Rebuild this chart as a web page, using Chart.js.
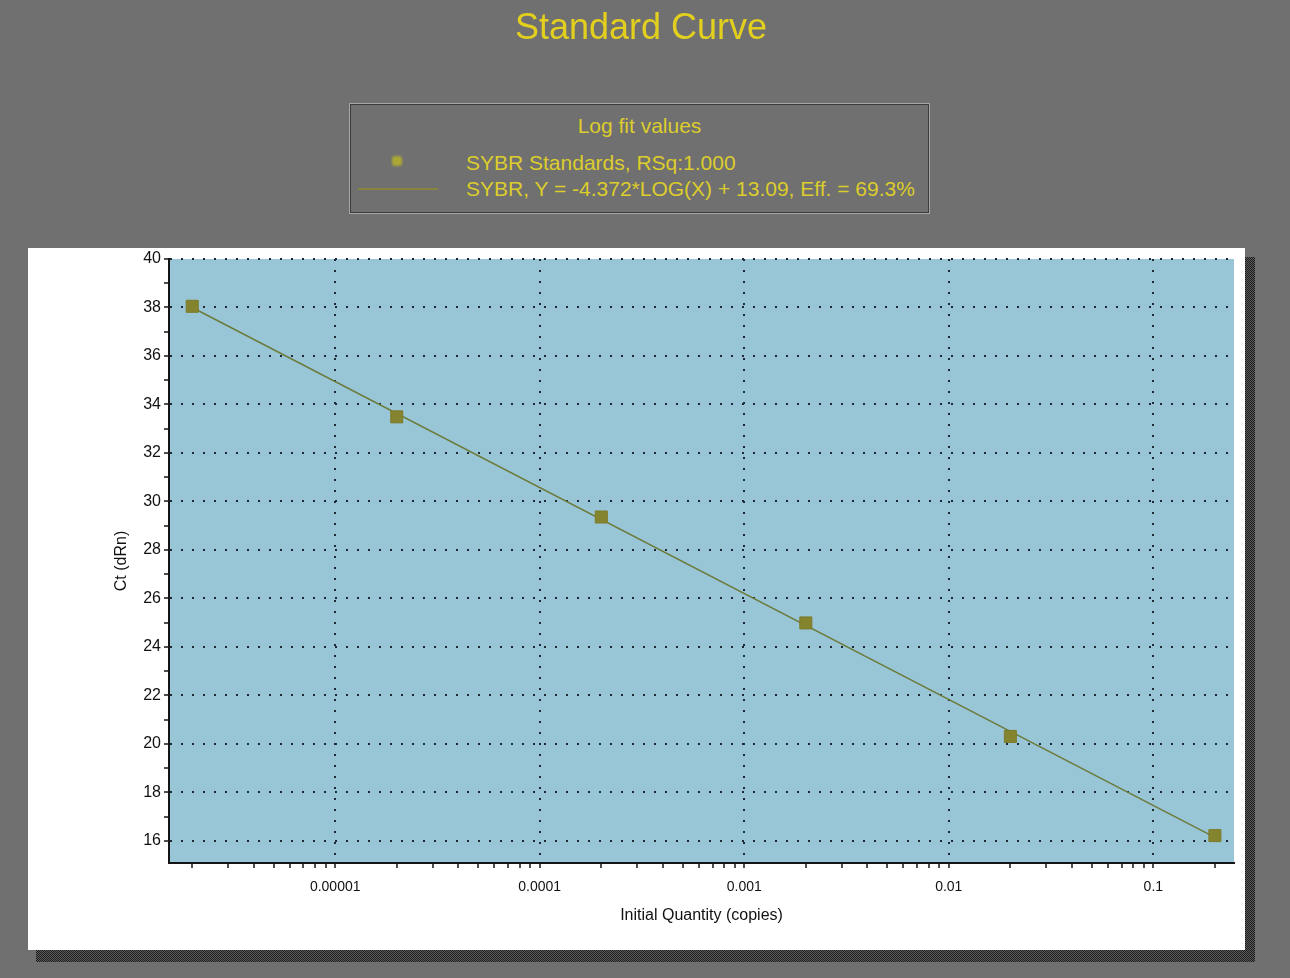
<!DOCTYPE html>
<html>
<head>
<meta charset="utf-8">
<title>Standard Curve</title>
<script src="https://cdn.jsdelivr.net/npm/chart.js@4.4.1/dist/chart.umd.min.js"></script>
<style>
    body { margin: 0; background: #707070; font-family: 'Liberation Sans', Arial, sans-serif; }
    #wrap { position: relative; width: 1290px; height: 978px; overflow: hidden; }
    #chart { position: absolute; left: 0; top: 0; }
    #title { position: absolute; left: 0; top: 5px; width: 1282px; text-align: center;
             font-size: 36px; line-height: 44px; color: #e3cf1e; }
    #legend { position: absolute; left: 349px; top: 103px; width: 581px; height: 111px;
              box-sizing: border-box; border: 1px solid #a6a6a6; box-shadow: inset 0 0 0 1px #3c3c3c;
              background: #707070; color: #dccd2c; font-size: 21px; }
    #legend .head { position: absolute; left: 0; right: 0; top: 10px; line-height: 24px; text-align: center; }
    #legend .item { position: absolute; left: 116px; line-height: 24px; white-space: nowrap; }
    #legend .marker { position: absolute; left: 42px; top: 52px; width: 10px; height: 10px;
                      background: #aaa734; border-radius: 3px; filter: blur(1px); }
    #legend .line { position: absolute; left: 8px; top: 84px; width: 80px; height: 2px; background: #86853a; }
</style>
</head>
<body>
<div id="wrap">
    <canvas id="chart" width="1290" height="978"></canvas>
    <div id="title">Standard Curve</div>
    <div id="legend">
        <div class="head" id="legendTitle"></div>
        <div class="marker"></div>
        <div class="item" id="legendStd" style="top:47px"></div>
        <div class="line"></div>
        <div class="item" id="legendFit" style="top:73px"></div>
    </div>
</div>
<script>
// standards (initial quantity vs Ct)
const quantities = [0.000002, 0.00002, 0.0002, 0.002, 0.02, 0.2];
const ctValues = [38.05, 33.49, 29.36, 24.99, 20.31, 16.22];

// log fit line end points
const fitX = [0.000002, 0.2];
const fitY = [38.0, 16.15];

const xMajor = [0.00001, 0.0001, 0.001, 0.01, 0.1];
const xTickLabels = ['0.00001', '0.0001', '0.001', '0.01', '0.1'];
const yTickLabels = ['16', '18', '20', '22', '24', '26', '28', '30', '32', '34', '36', '38', '40'];

const legendTitle = 'Log fit values';
const stdLabel = 'SYBR Standards, RSq:1.000';
const fitLabel = 'SYBR, Y = -4.372*LOG(X) + 13.09, Eff. = 69.3%';

document.getElementById('legendTitle').textContent = legendTitle;
document.getElementById('legendStd').textContent = stdLabel;
document.getElementById('legendFit').textContent = fitLabel;

function majorIndex(v) {
    return xMajor.findIndex(m => Math.abs(m - v) / m < 1e-6);
}

// dithered drop shadow like the old windows control
const pat = document.createElement('canvas');
pat.width = 2; pat.height = 2;
const pctx = pat.getContext('2d');
pctx.fillStyle = '#5c5c5c'; pctx.fillRect(0, 0, 2, 2);
pctx.fillStyle = '#1c1c1c'; pctx.fillRect(0, 0, 1, 1); pctx.fillRect(1, 1, 1, 1);

const panelPlugin = {
    id: 'panel',
    beforeDraw(chart) {
        const c = chart.ctx;
        const a = chart.chartArea;
        c.save();
        c.fillStyle = '#707070';
        c.fillRect(0, 0, chart.width, chart.height);
        c.fillStyle = c.createPattern(pat, 'repeat');
        c.fillRect(36, 257, 1255 - 36, 962 - 257);
        c.fillStyle = '#ffffff';
        c.fillRect(28, 248, 1245 - 28, 950 - 248);
        c.fillStyle = '#99c6d6';
        c.fillRect(a.left, a.top, a.right - a.left, a.bottom - a.top);
        c.restore();
    }
};

const ctx = document.getElementById('chart').getContext('2d');
new Chart(ctx, {
    type: 'line',
    data: {
        datasets: [{
            label: stdLabel,
            data: quantities.map((q, i) => ({ x: q, y: ctValues[i] })),
            showLine: false,
            pointStyle: 'rect',
            pointRadius: 8.5,
            backgroundColor: '#85842e',
            borderColor: '#7c7b2a',
            borderWidth: 1
        }, {
            label: fitLabel,
            data: fitX.map((q, i) => ({ x: q, y: fitY[i] })),
            borderColor: '#6c7b3c',
            borderWidth: 1.5,
            pointRadius: 0,
            fill: false,
            tension: 0
        }]
    },
    options: {
        responsive: false,
        animation: false,
        layout: { padding: { left: 112.4, top: 259, right: 56, bottom: 52.4 } },
        plugins: {
            legend: { display: false },
            tooltip: { enabled: false }
        },
        scales: {
            x: {
                type: 'logarithmic',
                min: 1.54e-6,
                max: 0.248,
                afterBuildTicks: scale => {
                    const ticks = [];
                    for (let e = -6; e <= -1; e++) {
                        for (let k = 1; k < 10; k++) {
                            const v = parseFloat((k * Math.pow(10, e)).toPrecision(6));
                            if (v >= scale.min && v <= scale.max) ticks.push({ value: v });
                        }
                    }
                    scale.ticks = ticks;
                },
                afterFit: scale => { scale.height = 62.6; },
                border: { color: '#151515', width: 2, dash: [2, 9] },
                grid: {
                    color: c => (c.tick && majorIndex(c.tick.value) >= 0) ? '#1d2a36' : 'rgba(0,0,0,0)',
                    lineWidth: 2,
                    tickColor: '#151515',
                    tickBorderDash: [],
                    tickWidth: 1.5,
                    tickLength: 5
                },
                ticks: {
                    autoSkip: false,
                    maxRotation: 0,
                    padding: 11,
                    color: '#111',
                    font: { family: "'Liberation Sans', Arial, sans-serif", size: 14 },
                    callback: value => {
                        const i = majorIndex(value);
                        return i >= 0 ? xTickLabels[i] : '';
                    }
                },
                title: {
                    display: true,
                    text: 'Initial Quantity (copies)',
                    color: '#111',
                    padding: 0,
                    font: { family: "'Liberation Sans', Arial, sans-serif", size: 16 }
                }
            },
            y: {
                type: 'linear',
                min: 15.09,
                max: 40,
                afterBuildTicks: scale => {
                    const ticks = [];
                    for (let v = 16; v <= 40; v++) ticks.push({ value: v });
                    scale.ticks = ticks;
                },
                afterFit: scale => { scale.width = 56.6; },
                border: { color: '#151515', width: 2, dash: [2, 9] },
                grid: {
                    color: c => (c.tick && yTickLabels.includes(String(c.tick.value))) ? '#1d2a36' : 'rgba(0,0,0,0)',
                    lineWidth: 2,
                    tickColor: '#151515',
                    tickBorderDash: [],
                    tickWidth: 1.5,
                    tickLength: 5
                },
                ticks: {
                    autoSkip: false,
                    padding: 3,
                    color: '#111',
                    font: { family: "'Liberation Sans', Arial, sans-serif", size: 16 },
                    callback: value => yTickLabels.includes(String(value)) ? String(value) : ''
                },
                title: {
                    display: true,
                    text: 'Ct (dRn)',
                    color: '#111',
                    padding: 0,
                    font: { family: "'Liberation Sans', Arial, sans-serif", size: 16 }
                }
            }
        }
    },
    plugins: [panelPlugin]
});
</script>
</body>
</html>
